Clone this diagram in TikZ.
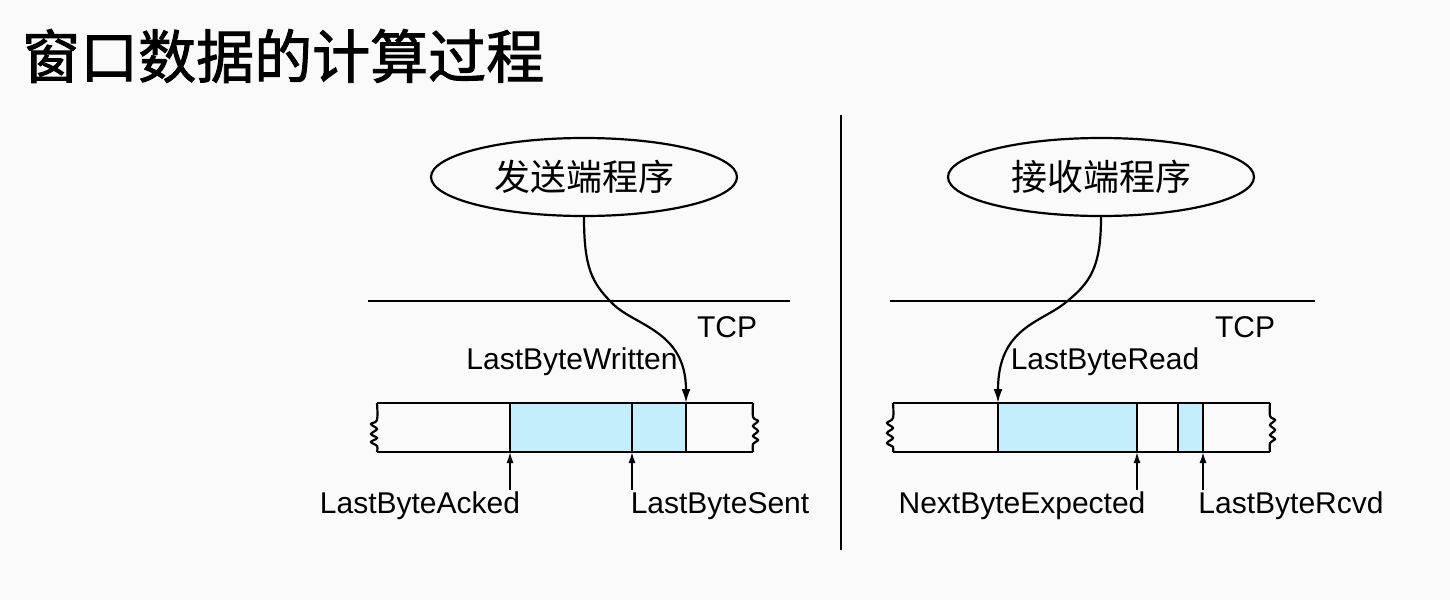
\documentclass[tikz,border=0pt]{standalone}
\usepackage{fontspec}
\setmainfont{Liberation Sans}
\newfontfamily\cjk{Noto Sans CJK SC}
\newfontfamily\cjktitle[FakeBold=1.6]{Noto Sans CJK SC}
\usetikzlibrary{shapes.geometric,arrows.meta}
\definecolor{bufblue}{HTML}{C4EEFC}
\definecolor{bgc}{HTML}{FAFAFA}
\tikzset{
  lab/.style={font=\fontsize{30}{34}\selectfont, inner sep=0pt},
  prog/.style={ellipse, draw, line width=2.2pt, minimum width=306pt, minimum height=78pt, inner sep=0pt, font=\cjk\fontsize{36}{40}\selectfont},
  thick line/.style={line width=2.2pt},
  ptr/.style={line width=1.6pt, -{Latex[length=11pt,width=7pt]}},
  curv/.style={line width=2.2pt, -{Latex[length=14pt,width=9pt]}},
}
\begin{document}
\begin{tikzpicture}[x=1pt,y=-1pt]
\useasboundingbox (0,0) rectangle (1450,600);
\fill[bgc] (0,0) rectangle (1450,600);

% title
\node[anchor=west, inner sep=0pt, font=\cjktitle\fontsize{58}{62}\selectfont] (title) at (22,56) {窗口数据的计算过程};

% divider
\coordinate (dtop) at (841,115);
\coordinate (dbot) at (841,550);
\draw[line width=2.2pt] (dtop) -- (dbot);

% ===== sender =====
\node[prog] (snd) at (584,177) {发送端程序};
\coordinate (lL) at (368,301);
\coordinate (lR) at (790,301);
\draw[thick line] (lL) -- (lR);
\node[lab] (tcpL) at (727,327) {TCP};

\fill[bufblue] (510,403) rectangle (686,452);
\draw[thick line] (377,403) -- (753,403);
\draw[thick line] (377,452) -- (753,452);
\draw[thick line] plot[smooth, tension=0.6] coordinates {(377,403) (377,420) (371,424) (377,429) (371,434) (377,438) (371,442) (377,446) (377,452)};
\draw[thick line] plot[smooth, tension=0.6] coordinates {(753,403) (753,417) (758,421) (753,426) (758,431) (753,436) (758,440) (753,444) (753,452)};
\coordinate (sA) at (510,452);
\coordinate (sS) at (632,452);
\coordinate (sW) at (686,403);
\draw[thick line] (510,403) -- (sA);
\draw[thick line] (632,403) -- (sS);
\draw[thick line] (sW) -- (686,452);

\node[lab] (lbw) at (572,362) {LastByteWritten};
\node[lab] (lba) at (420,506) {LastByteAcked};
\node[lab] (lbs) at (720,506) {LastByteSent};
\coordinate (lbaT) at (510,490);
\coordinate (lbsT) at (632,490);
\draw[ptr] (lbaT) -- (sA);
\draw[ptr] (lbsT) -- (sS);

\coordinate (c1) at (612,303);
\draw[curv] (snd.south) .. controls (584,268) and (592,283) .. (c1)
  .. controls (634,326) and (686,330) .. (sW);

% ===== receiver =====
\node[prog] (rcv) at (1101,177) {接收端程序};
\coordinate (rL) at (890,301);
\coordinate (rR) at (1315,301);
\draw[thick line] (rL) -- (rR);
\node[lab] (tcpR) at (1245,327) {TCP};

\fill[bufblue] (998,403) rectangle (1137,452);
\fill[bufblue] (1178,403) rectangle (1203,452);
\draw[thick line] (893,403) -- (1270,403);
\draw[thick line] (893,452) -- (1270,452);
\draw[thick line] plot[smooth, tension=0.6] coordinates {(893,403) (893,418) (887,423) (893,428) (887,433) (893,438) (887,443) (893,447) (893,452)};
\draw[thick line] plot[smooth, tension=0.6] coordinates {(1270,403) (1270,416) (1275,420) (1270,425) (1275,430) (1270,435) (1275,439) (1270,443) (1270,452)};
\coordinate (rR0) at (998,403);
\coordinate (rE) at (1137,452);
\coordinate (rC) at (1203,452);
\draw[thick line] (rR0) -- (998,452);
\draw[thick line] (1137,403) -- (rE);
\draw[thick line] (1178,403) -- (1178,452);
\draw[thick line] (1203,403) -- (rC);

\node[lab] (lbr) at (1105,362) {LastByteRead};
\node[lab] (nbe) at (1022,506) {NextByteExpected};
\node[lab] (lbrc) at (1291,506) {LastByteRcvd};
\coordinate (nbeT) at (1137,490);
\coordinate (lbrcT) at (1203,490);
\draw[ptr] (nbeT) -- (rE);
\draw[ptr] (lbrcT) -- (rC);

\coordinate (c2) at (1065,303);
\draw[curv] (rcv.south) .. controls (1101,268) and (1090,283) .. (c2)
  .. controls (1040,323) and (998,328) .. (rR0);
\end{tikzpicture}
\end{document}
